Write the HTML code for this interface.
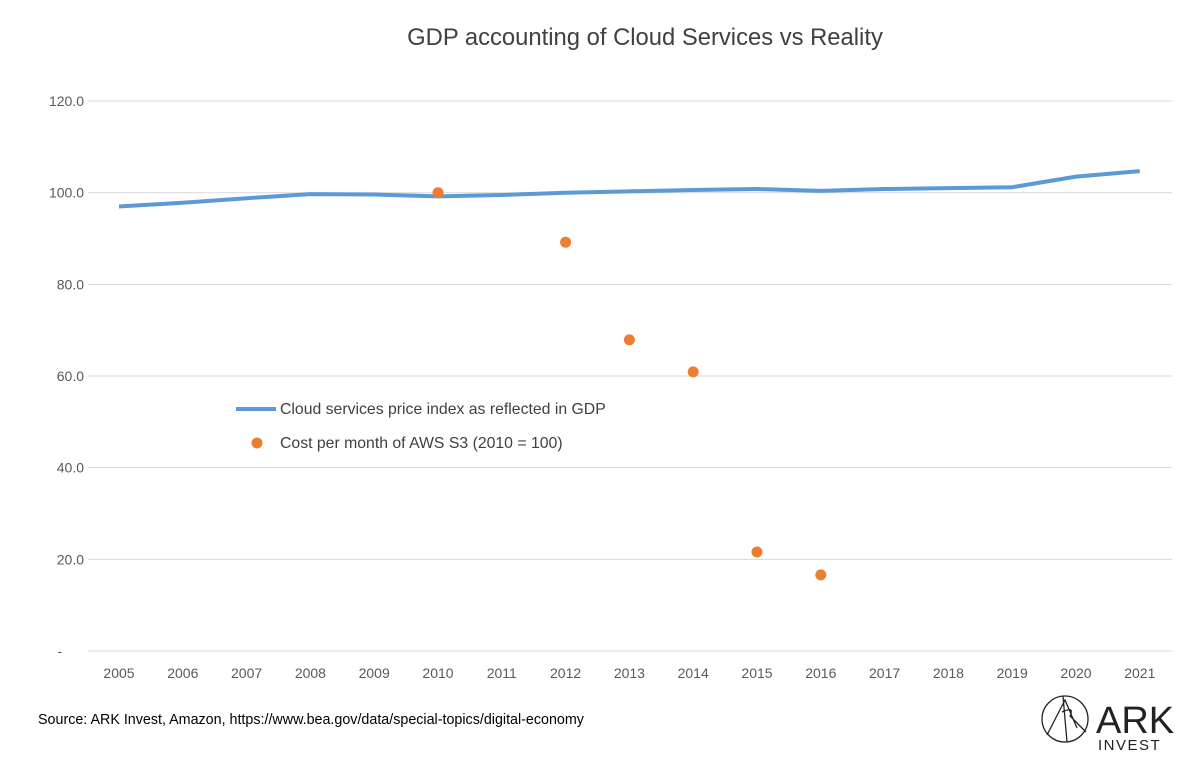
<!DOCTYPE html>
<html><head><meta charset="utf-8"><style>
body{margin:0;background:#fff;}
svg text{font-family:"Liberation Sans",sans-serif;}
</style></head><body>
<svg width="1200" height="759" xmlns="http://www.w3.org/2000/svg">
<text x="645" y="45" font-size="23.8" fill="#404040" text-anchor="middle">GDP accounting of Cloud Services vs Reality</text>
<g id="grid"></g><g id="ylab"></g><g id="xlab"></g><g id="series"></g>
<g>
<line x1="236" y1="409" x2="276" y2="409" stroke="#5b9bd5" stroke-width="4"/>
<text x="280" y="414" font-size="15.8" fill="#404040">Cloud services price index as reflected in GDP</text>
<circle cx="257" cy="443" r="5.5" fill="#ed7d31"/>
<text x="280" y="448" font-size="15.8" fill="#404040">Cost per month of AWS S3 (2010 = 100)</text>
</g>
<text x="38" y="724" font-size="14.3" fill="#000">Source: ARK Invest, Amazon, https://www.bea.gov/data/special-topics/digital-economy</text>
<g stroke="#222" fill="none" stroke-width="1.3">
<circle cx="1065" cy="719" r="23"/>
<path d="M1063 696 L1067 742 M1047 735 L1065 700 L1077 728 M1062 712 Q1075 706 1070 716 L1086 732"/>
</g>
<text x="1096" y="733" font-size="38" fill="#222" font-family="Liberation Sans">ARK</text>
<text x="1098" y="750" font-size="15" fill="#222" font-family="Liberation Serif" letter-spacing="1.5">INVEST</text>
</svg>
<script>
const years=[2005,2006,2007,2008,2009,2010,2011,2012,2013,2014,2015,2016,2017,2018,2019,2020,2021];
const gdpIndex=[97.0,97.8,98.8,99.7,99.6,99.2,99.5,100.0,100.3,100.6,100.8,100.4,100.8,101.0,101.2,103.5,104.7];
const awsYears=[2010,2012,2013,2014,2015,2016];
const awsCost=[100,89.2,67.9,60.9,21.6,16.6];
const yTicks=[0,20,40,60,80,100,120];
const yTickLabels=["-","20.0","40.0","60.0","80.0","100.0","120.0"];
const NS="http://www.w3.org/2000/svg";
const X=y=>119+(y-2005)*63.8;
const Y=v=>651-v*4.583;
function mk(t,a,p){const e=document.createElementNS(NS,t);for(const k in a)e.setAttribute(k,a[k]);p.appendChild(e);return e;}
const grid=document.getElementById('grid'),yl=document.getElementById('ylab'),xl=document.getElementById('xlab'),se=document.getElementById('series');
yTicks.forEach((v,i)=>{
 const l=mk('line',{x1:88,x2:1172,y1:Y(v),y2:Y(v),stroke:'#d9d9d9','stroke-width':1},grid);
 
 
 const t=mk('text',{x:i==0?62:84,y:Y(v)+5,'font-size':14,fill:'#595959','text-anchor':'end'},yl);
 t.textContent=yTickLabels[i];
 
 
});
years.forEach(y=>{
 const t=mk('text',{x:X(y),y:678,'font-size':14,fill:'#595959','text-anchor':'middle'},xl);
 t.textContent=y;
 
 
});
const p=mk('polyline',{points:years.map((y,i)=>X(y)+','+Y(gdpIndex[i])).join(' '),fill:'none',stroke:'#5b9bd5','stroke-width':4,'stroke-linejoin':'round'},se);


awsYears.forEach((y,i)=>{
 const c=mk('circle',{cx:X(y),cy:Y(awsCost[i]),r:5.5,fill:'#ed7d31'},se);
 
 
});
</script>
</body></html>
